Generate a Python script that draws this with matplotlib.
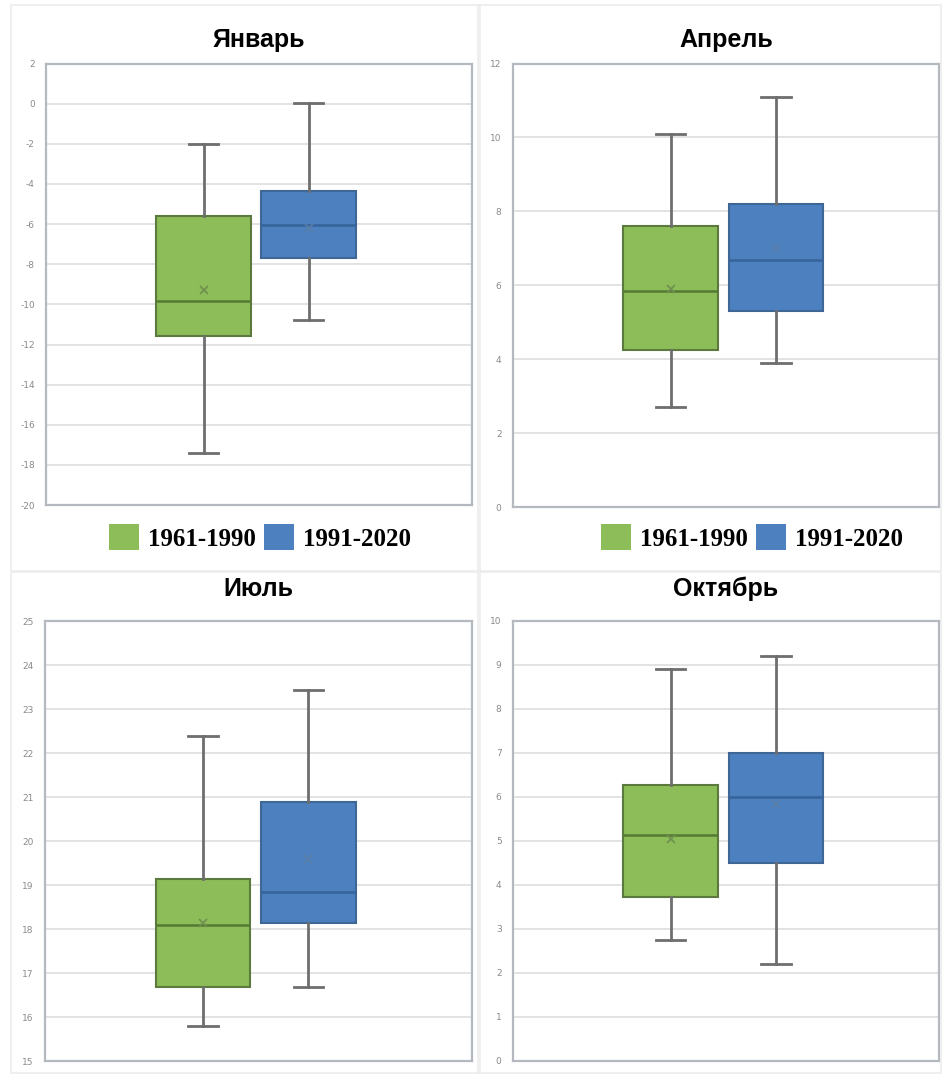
import matplotlib.pyplot as plt
from matplotlib.patches import Patch, Rectangle

plt.rcParams['axes.unicode_minus'] = False

# monthly mean air temperature, two climate normals
months = ["Январь", "Апрель", "Июль", "Октябрь"]
periods = ["1961-1990", "1991-2020"]

old_lo = [-17.4, 2.7, 15.8, 2.75]
old_q1 = [-11.55, 4.25, 16.7, 3.73]
old_med = [-9.85, 5.85, 18.1, 5.14]
old_q3 = [-5.6, 7.6, 19.15, 6.27]
old_hi = [-2.0, 10.1, 22.4, 8.9]
old_mean = [-9.3, 5.9, 18.15, 5.05]

new_lo = [-10.8, 3.9, 16.7, 2.2]
new_q1 = [-7.7, 5.3, 18.15, 4.5]
new_med = [-6.05, 6.7, 18.85, 6.0]
new_q3 = [-4.35, 8.2, 20.9, 7.0]
new_hi = [0.05, 11.1, 23.45, 9.2]
new_mean = [-6.2, 7.0, 19.6, 5.85]

y_min = [-20, 0, 15, 0]
y_max = [2, 12, 25, 10]
y_step = [2, 2, 1, 1]

green = "#8cbd58"
blue = "#4c80bf"
colors = [green, blue]

fig = plt.figure(figsize=(9.46, 10.77), dpi=100)

# axes rectangles in figure fractions
boxes = [
    [0.0486, 0.531, 0.450, 0.410],
    [0.542, 0.529, 0.451, 0.412],
    [0.0476, 0.0145, 0.451, 0.4085],
    [0.542, 0.0149, 0.451, 0.4085],
]
title_y = [0.956, 0.956, 0.447, 0.447]

# faint chart-area frames
for r in [(0.012, 0.47, 0.495, 0.525), (0.505, 0.47, 0.49, 0.525),
          (0.012, 0.004, 0.495, 0.465), (0.505, 0.004, 0.49, 0.465)]:
    fig.patches.append(Rectangle(r[:2], r[2], r[3], transform=fig.transFigure,
                                 fill=False, edgecolor="#ececec", lw=1.2))

for i, m in enumerate(months):
    ax = fig.add_axes(boxes[i])
    stats = [
        dict(whislo=old_lo[i], q1=old_q1[i], med=old_med[i], q3=old_q3[i],
             whishi=old_hi[i], mean=old_mean[i], fliers=[]),
        dict(whislo=new_lo[i], q1=new_q1[i], med=new_med[i], q3=new_q3[i],
             whishi=new_hi[i], mean=new_mean[i], fliers=[]),
    ]
    bp = ax.bxp(stats, positions=[1, 2], widths=0.9, patch_artist=True,
                showmeans=True, showfliers=False,
                whiskerprops=dict(color="#6e6e6e", lw=2),
                capprops=dict(color="#6e6e6e", lw=2),
                medianprops=dict(lw=1.8),
                meanprops=dict(marker="x", markersize=6, markeredgewidth=1.2))
    for j, b in enumerate(bp["boxes"]):
        b.set_facecolor(colors[j])
        b.set_edgecolor("#5d7a3e" if j == 0 else "#3f6796")
        b.set_linewidth(1.5)
        bp["medians"][j].set_color("#557a35" if j == 0 else "#36649a")
        bp["means"][j].set_markeredgecolor("#6f8f50" if j == 0 else "#5a7fa8")
    for c in bp["caps"]:
        c.set_xdata([c.get_xdata().mean() - 0.14, c.get_xdata().mean() + 0.14])

    ax.set_xlim(-0.5, 3.55)
    ax.set_ylim(y_min[i], y_max[i])
    ticks = list(range(y_min[i], y_max[i] + 1, y_step[i]))
    ax.set_yticks(ticks)
    ax.set_yticklabels([str(t) for t in ticks], fontsize=6.5, color="#8a8a8a")
    ax.set_xticks([])
    ax.tick_params(axis="y", length=0, pad=8)
    ax.yaxis.grid(True, color="#dedede", lw=1.2)
    ax.set_axisbelow(True)
    for s in ax.spines.values():
        s.set_color("#b4b9c0")
        s.set_linewidth(1.6)

    cx = boxes[i][0] + boxes[i][2] / 2
    fig.text(cx, title_y[i], m, ha="center", va="baseline", fontsize=18,
             fontweight="bold", family="Liberation Sans")

# legends under the top row
handles = [Patch(facecolor=colors[k], edgecolor="none", label=periods[k])
           for k in range(2)]
for lx in [0.275, 0.795]:
    fig.legend(handles=handles, loc="center", bbox_to_anchor=(lx, 0.501),
               ncol=2, frameon=False, handlelength=1.2, handleheight=1.2,
               handletextpad=0.36, columnspacing=0.3,
               prop=dict(family="Liberation Serif", weight="bold", size=18))

fig.savefig("out.png", dpi=100)
